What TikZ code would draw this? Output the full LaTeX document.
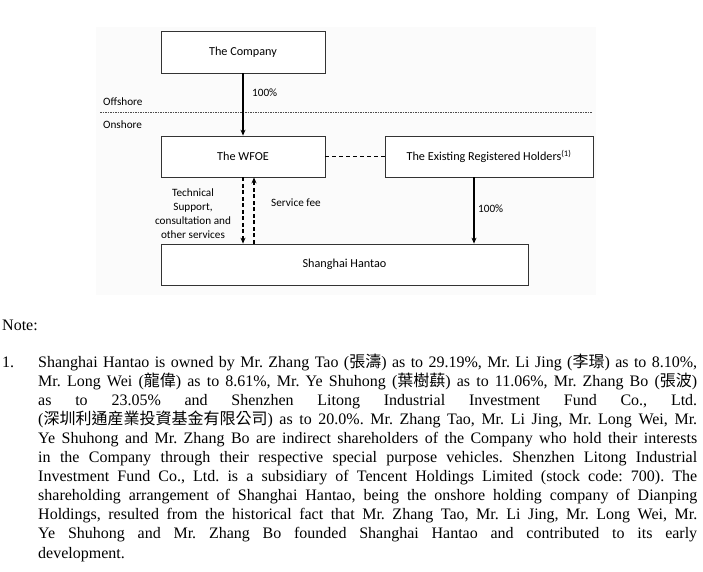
\documentclass[tikz,border=0pt]{standalone}
\usepackage{fontspec}
\setmainfont{Liberation Serif}
\newfontfamily\chartfont{Carlito}
\newfontfamily\cjk{Noto Sans CJK TC}
\usetikzlibrary{arrows.meta,positioning}
\tikzset{
	entity/.style={draw=black!80,line width=0.8pt,fill=white,font=\chartfont\fontsize{12.2}{14}\selectfont,inner sep=0pt},
	lbl/.style={font=\chartfont\fontsize{11.2}{14}\selectfont,inner sep=0pt},
	own/.style={line width=1.1pt,-{Stealth[length=6pt,width=5pt]}},
	svc/.style={line width=1.1pt,dash pattern=on 4pt off 2.5pt,-{Stealth[length=6pt,width=5pt]}}
}
\begin{document}
\begin{tikzpicture}[x=1pt,y=-1pt]
	\useasboundingbox (0,0) rectangle (703,571);
	\fill[black!1.5] (96,27) rectangle (596,295);
	% offshore / onshore divide
	\draw[black!70,line width=0.6pt,dash pattern=on 1.5pt off 1pt] (100,112) -- (592,112);
	\node[lbl,anchor=west] (off) at (103,102) {Offshore};
	\node[lbl,anchor=west] (on) at (103,125) {Onshore};
	% boxes
	\node[entity,minimum width=164pt,minimum height=42pt] (co) at (243,52) {The Company};
	\node[entity,minimum width=164pt,minimum height=41pt] (wfoe) at (243,156.5) {The WFOE};
	\node[entity,minimum width=208pt,minimum height=41pt] (erh) at (489,156.5) {The Existing Registered Holders\textsuperscript{(1)}};
	\node[entity,minimum width=367pt,minimum height=41pt] (sh) at (344.5,264.5) {Shanghai Hantao};
	% links
	\draw[own] (co) -- (wfoe);
	\node[lbl,anchor=west] (p1) at (252,93) {100\%};
	\draw[line width=0.9pt,dash pattern=on 4pt off 3pt] (wfoe) -- (erh);
	\coordinate (tech) at (wfoe.south);
	\coordinate (fee) at ([xshift=11pt]wfoe.south);
	\coordinate (hold) at ([xshift=-15pt]erh.south);
	\draw[svc] (tech) -- (tech |- sh.north);
	\draw[svc] (fee |- sh.north) -- (fee);
	\draw[own] (hold) -- (hold |- sh.north);
	\node[lbl,align=center] (techl) at (193,214) {Technical\\Support,\\consultation and\\other services};
	\node[lbl,anchor=west] (feel) at (271,203) {Service fee};
	\node[lbl,anchor=west] (p2) at (478,209) {100\%};
	% note
	\node[anchor=base west,inner sep=0pt,font=\fontsize{16}{19.1}\selectfont] (note) at (2,330.5) {Note:};
	\node[anchor=base west,inner sep=0pt,font=\fontsize{16}{19.1}\selectfont] (n1) at (2,367) {1.};
	\node[anchor=base west,inner sep=0pt,text width=659pt,align=justify,font=\fontsize{16}{19.1}\selectfont] (para) at (38,367) {\frenchspacing
		Shanghai Hantao is owned by Mr. Zhang Tao ({\cjk 張濤}) as to 29.19\%, Mr. Li Jing ({\cjk 李璟}) as to 8.10\%,\linebreak
		Mr. Long Wei ({\cjk 龍偉}) as to 8.61\%, Mr. Ye Shuhong ({\cjk 葉樹蕻}) as to 11.06\%, Mr. Zhang Bo ({\cjk 張波})\linebreak
		as to 23.05\% and Shenzhen Litong Industrial Investment Fund Co., Ltd.\linebreak
		({\cjk 深圳利通産業投資基金有限公司}) as to 20.0\%. Mr. Zhang Tao, Mr. Li Jing, Mr. Long Wei, Mr.\linebreak
		Ye Shuhong and Mr. Zhang Bo are indirect shareholders of the Company who hold their interests\linebreak
		in the Company through their respective special purpose vehicles. Shenzhen Litong Industrial\linebreak
		Investment Fund Co., Ltd. is a subsidiary of Tencent Holdings Limited (stock code: 700). The\linebreak
		shareholding arrangement of Shanghai Hantao, being the onshore holding company of Dianping\linebreak
		Holdings, resulted from the historical fact that Mr. Zhang Tao, Mr. Li Jing, Mr. Long Wei, Mr.\linebreak
		Ye Shuhong and Mr. Zhang Bo founded Shanghai Hantao and contributed to its early\linebreak
		development.};
\end{tikzpicture}
\end{document}
